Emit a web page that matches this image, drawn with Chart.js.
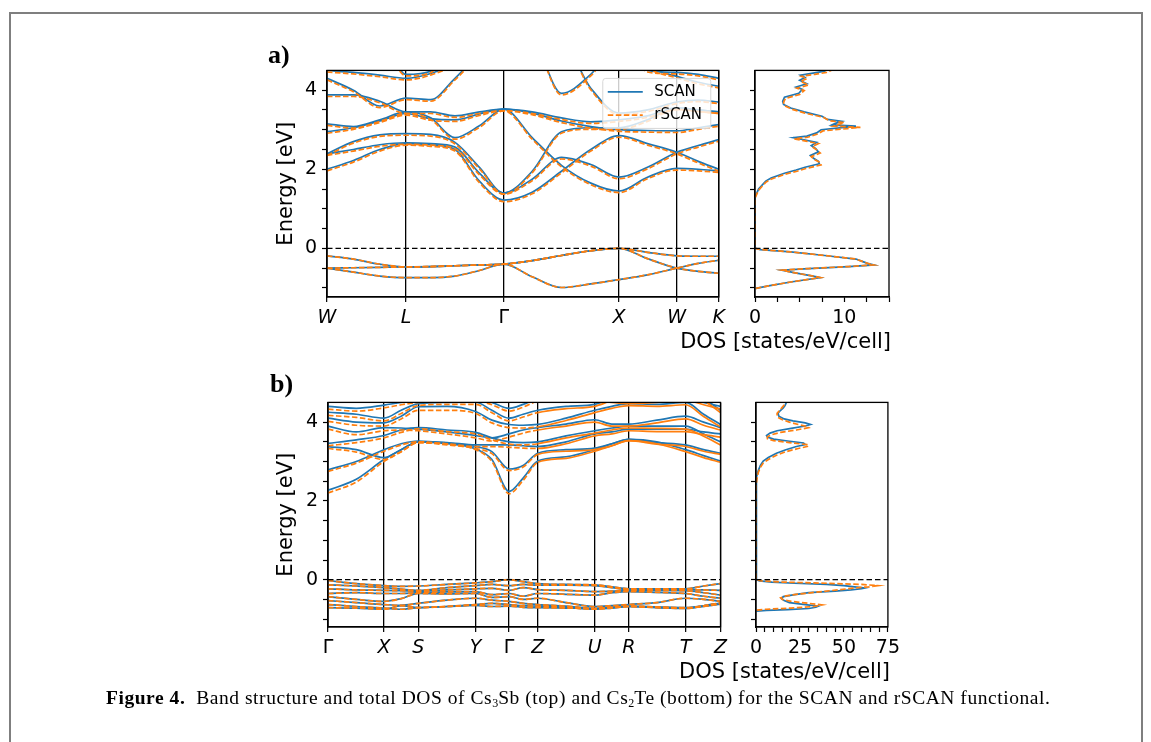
<!DOCTYPE html>
<html>
<head>
<meta charset="utf-8">
<script src="https://cdn.jsdelivr.net/npm/chart.js@4.4.1/dist/chart.umd.min.js"></script>
<style>
  body { margin: 0; background: #fff; width: 1151px; height: 742px; overflow: hidden; position: relative; }
  #frame { position: absolute; left: 9px; top: 12px; width: 1134px; height: 780px; border: 2px solid #7f7f7f; box-sizing: border-box; }
  canvas { position: absolute; }
  .tag { position: absolute; font-family: "Liberation Serif", serif; font-weight: bold; font-size: 26px; line-height: 26px; color: #000; }
  #cap { position: absolute; left: 106px; top: 687px; font-family: "Liberation Serif", serif; font-size: 19.5px; letter-spacing: 0.55px; color: #000; white-space: nowrap; }
  #cap sub { font-size: 12px; vertical-align: -3px; line-height: 0; letter-spacing: 0; }
</style>
</head>
<body>
<div id="frame"></div>
<canvas id="bandA" width="468" height="283" style="left:262px;top:54px"></canvas>
<canvas id="dosA" width="244" height="305" style="left:660px;top:54px"></canvas>
<canvas id="bandB" width="469" height="281" style="left:263px;top:386px"></canvas>
<canvas id="dosB" width="244" height="303" style="left:661px;top:386px"></canvas>
<div class="tag" style="left:268px;top:42px">a)</div>
<div class="tag" style="left:270px;top:371px">b)</div>
<div id="cap"><b>Figure 4.</b>&nbsp;&nbsp;Band structure and total DOS of Cs<sub>3</sub>Sb (top) and Cs<sub>2</sub>Te (bottom) for the SCAN and rSCAN functional.</div>

<script>
// ---- data ----
const seriesNames = ['SCAN', 'rSCAN'];
const dosTitle = 'DOS [states/eV/cell]';

// a) Cs3Sb, path W-L-Γ-X-W-K
const kLabelsA = ['W', 'L', 'Γ', 'X', 'W', 'K'];
const kNodesA = [0, 0.81, 1.81, 2.99, 3.58, 4.01];
const kGridA = [0, 0.27, 0.54, 0.81, 1.06, 1.31, 1.56, 1.81, 2.1, 2.4, 2.7, 2.99, 3.28, 3.58, 3.8, 4.01];

const valenceA = [
  [-0.19, -0.27, -0.40, -0.47, -0.46, -0.44, -0.42, -0.40, -0.31, -0.18, -0.06, 0.00, -0.10, -0.19, -0.20, -0.20],
  [-0.50, -0.49, -0.48, -0.47, -0.46, -0.44, -0.42, -0.40, -0.31, -0.18, -0.06, 0.00, -0.26, -0.50, -0.58, -0.63],
  [-0.50, -0.60, -0.70, -0.74, -0.74, -0.70, -0.56, -0.40, -0.72, -0.99, -0.90, -0.79, -0.67, -0.50, -0.38, -0.30]
];
const scanCondA = [
  [2.00, 2.22, 2.50, 2.65, 2.62, 2.50, 1.70, 1.22, 1.42, 1.95, 2.50, 2.85, 2.65, 2.43, 2.20, 2.00],
  [2.39, 2.50, 2.62, 2.67, 2.65, 2.56, 1.90, 1.40, 1.75, 2.30, 2.12, 1.80, 2.05, 2.43, 2.60, 2.75],
  [2.39, 2.70, 2.87, 2.90, 2.88, 2.68, 2.05, 1.40, 1.95, 2.95, 3.05, 3.05, 3.25, 3.55, 3.50, 3.45],
  [2.95, 3.05, 3.22, 3.41, 3.28, 3.25, 3.40, 3.52, 3.42, 3.22, 3.08, 3.00, 2.98, 2.97, 3.05, 3.13],
  [3.15, 3.08, 3.25, 3.45, 3.30, 2.80, 3.10, 3.52, 2.80, 2.10, 1.65, 1.45, 1.80, 2.02, 2.00, 1.96],
  [3.88, 3.88, 3.72, 3.45, 3.45, 3.35, 3.45, 3.52, 3.45, 3.30, 3.20, 3.25, 3.35, 3.55, 3.50, 3.45],
  [4.30, 4.00, 3.60, 3.80, 3.76, 4.30, 4.90, 5.20, 5.20, 5.20, 5.20, 5.20, 4.60, 4.35, 4.20, 4.10],
  [4.50, 4.45, 4.38, 4.30, 4.42, 4.70, 5.20, 5.20, 5.20, 3.92, 4.40, 5.20, 4.50, 4.45, 4.40, 4.30],
  [5.20, 5.20, 5.20, 4.40, 4.48, 5.20, 5.20, 5.20, 5.20, 5.20, 4.05, 3.42, 3.50, 3.70, 3.75, 3.70]
];
const rscanCondA = [
  [1.96, 2.18, 2.46, 2.61, 2.58, 2.46, 1.66, 1.18, 1.38, 1.91, 2.46, 2.81, 2.61, 2.39, 2.16, 1.95],
  [2.35, 2.46, 2.58, 2.63, 2.61, 2.52, 1.86, 1.37, 1.71, 2.26, 2.08, 1.76, 2.01, 2.39, 2.56, 2.71],
  [2.35, 2.66, 2.83, 2.86, 2.84, 2.64, 2.01, 1.37, 1.91, 2.91, 3.01, 3.01, 3.21, 3.51, 3.46, 3.41],
  [2.91, 3.01, 3.18, 3.37, 3.24, 3.21, 3.36, 3.48, 3.38, 3.18, 3.04, 2.96, 2.94, 2.93, 3.01, 3.09],
  [3.11, 3.04, 3.21, 3.41, 3.26, 2.76, 3.06, 3.48, 2.76, 2.06, 1.61, 1.41, 1.76, 1.98, 1.96, 1.92],
  [3.84, 3.84, 3.68, 3.41, 3.41, 3.31, 3.41, 3.48, 3.41, 3.26, 3.16, 3.21, 3.31, 3.51, 3.46, 3.41],
  [4.26, 3.96, 3.56, 3.76, 3.72, 4.26, 4.86, 5.20, 5.20, 5.20, 5.20, 5.20, 4.56, 4.31, 4.16, 4.06],
  [4.46, 4.41, 4.34, 4.26, 4.38, 4.66, 5.20, 5.20, 5.20, 3.88, 4.36, 5.20, 4.46, 4.41, 4.36, 4.26],
  [5.20, 5.20, 5.20, 4.36, 4.44, 5.20, 5.20, 5.20, 5.20, 5.20, 4.01, 3.38, 3.46, 3.66, 3.71, 3.66]
];

// b) Cs2Te, path Γ-X-S-Y-Γ-Z-U-R-T-Z
const kLabelsB = ['Γ', 'X', 'S', 'Y', 'Γ', 'Z', 'U', 'R', 'T', 'Z'];
const kNodesB = [0, 0.573, 0.926, 1.513, 1.856, 2.15, 2.733, 3.083, 3.666, 4.023];
const kGridB = [0, 0.29, 0.573, 0.75, 0.926, 1.22, 1.513, 1.68, 1.856, 2.0, 2.15, 2.44, 2.733, 2.91, 3.083, 3.37, 3.666, 3.85, 4.023];

const valenceB = [
  [-0.02, -0.10, -0.15, -0.17, -0.16, -0.12, -0.08, -0.05, 0.00, -0.05, -0.10, -0.12, -0.13, -0.18, -0.23, -0.23, -0.23, -0.16, -0.10],
  [-0.13, -0.16, -0.20, -0.24, -0.27, -0.20, -0.15, -0.12, -0.15, -0.12, -0.14, -0.14, -0.15, -0.20, -0.25, -0.25, -0.25, -0.26, -0.27],
  [-0.23, -0.26, -0.27, -0.28, -0.29, -0.26, -0.23, -0.22, -0.27, -0.20, -0.25, -0.27, -0.30, -0.29, -0.27, -0.27, -0.28, -0.33, -0.39],
  [-0.35, -0.33, -0.35, -0.35, -0.33, -0.31, -0.30, -0.38, -0.35, -0.42, -0.35, -0.37, -0.39, -0.33, -0.30, -0.32, -0.35, -0.42, -0.47],
  [-0.43, -0.50, -0.55, -0.48, -0.35, -0.36, -0.35, -0.45, -0.43, -0.50, -0.47, -0.58, -0.68, -0.66, -0.63, -0.58, -0.47, -0.50, -0.55],
  [-0.53, -0.58, -0.63, -0.65, -0.60, -0.52, -0.47, -0.52, -0.55, -0.60, -0.63, -0.67, -0.73, -0.70, -0.67, -0.69, -0.71, -0.66, -0.59],
  [-0.63, -0.68, -0.72, -0.75, -0.71, -0.68, -0.63, -0.60, -0.63, -0.66, -0.67, -0.70, -0.75, -0.72, -0.68, -0.70, -0.72, -0.68, -0.62],
  [-0.71, -0.72, -0.75, -0.66, -0.71, -0.68, -0.65, -0.68, -0.67, -0.70, -0.71, -0.72, -0.73, -0.70, -0.68, -0.71, -0.73, -0.66, -0.60]
];
const scanCondB = [
  [2.27, 2.55, 3.05, 3.30, 3.50, 3.45, 3.32, 3.05, 2.24, 2.58, 3.01, 3.12, 3.30, 3.45, 3.56, 3.50, 3.30, 3.15, 3.01],
  [2.79, 3.00, 3.30, 3.45, 3.52, 3.47, 3.38, 3.25, 2.81, 2.90, 3.21, 3.30, 3.34, 3.45, 3.56, 3.48, 3.42, 3.30, 3.21],
  [3.38, 3.30, 3.10, 3.30, 3.50, 3.48, 3.42, 3.42, 3.42, 3.40, 3.38, 3.50, 3.70, 3.75, 3.82, 3.82, 3.82, 3.75, 3.70],
  [3.46, 3.55, 3.66, 3.80, 3.86, 3.80, 3.74, 3.60, 3.50, 3.48, 3.50, 3.65, 3.78, 3.85, 3.90, 3.90, 3.90, 3.70, 3.50],
  [3.90, 3.75, 3.86, 3.85, 3.82, 3.75, 3.66, 3.60, 3.70, 3.80, 3.86, 3.95, 4.06, 3.95, 3.95, 4.05, 4.15, 4.00, 3.86],
  [4.10, 4.00, 3.98, 4.15, 4.39, 4.40, 4.27, 4.05, 3.94, 3.92, 3.94, 4.10, 4.30, 4.40, 4.47, 4.45, 4.50, 4.20, 3.94],
  [4.25, 4.20, 4.10, 4.30, 4.47, 4.50, 4.51, 4.30, 4.10, 4.20, 4.30, 4.40, 4.45, 4.60, 4.70, 4.70, 4.80, 4.60, 4.30],
  [4.40, 4.35, 4.43, 4.50, 4.55, 4.60, 4.60, 4.50, 4.35, 4.45, 4.60, 4.70, 4.60, 4.55, 4.52, 4.55, 4.60, 4.50, 4.40]
];
const rscanCondB = [
  [2.20, 2.48, 3.00, 3.25, 3.48, 3.42, 3.30, 3.00, 2.18, 2.52, 2.98, 3.08, 3.26, 3.40, 3.53, 3.45, 3.25, 3.10, 2.98],
  [2.75, 2.96, 3.26, 3.42, 3.50, 3.44, 3.33, 3.20, 2.77, 2.86, 3.18, 3.26, 3.30, 3.40, 3.53, 3.44, 3.38, 3.26, 3.18],
  [3.33, 3.24, 3.05, 3.25, 3.48, 3.45, 3.38, 3.38, 3.36, 3.34, 3.33, 3.45, 3.65, 3.70, 3.78, 3.76, 3.76, 3.68, 3.62],
  [3.40, 3.48, 3.60, 3.74, 3.83, 3.76, 3.70, 3.55, 3.44, 3.42, 3.45, 3.60, 3.72, 3.80, 3.85, 3.84, 3.82, 3.64, 3.42],
  [3.82, 3.68, 3.78, 3.80, 3.78, 3.70, 3.60, 3.52, 3.62, 3.72, 3.80, 3.90, 4.00, 3.90, 3.90, 3.98, 4.08, 3.92, 3.80],
  [4.02, 3.92, 3.90, 4.08, 4.30, 4.30, 4.22, 3.98, 3.86, 3.85, 3.88, 4.04, 4.24, 4.35, 4.42, 4.40, 4.44, 4.14, 3.88],
  [4.17, 4.12, 4.03, 4.22, 4.42, 4.45, 4.45, 4.24, 4.03, 4.13, 4.24, 4.34, 4.40, 4.55, 4.65, 4.65, 4.75, 4.55, 4.24],
  [4.33, 4.28, 4.36, 4.44, 4.50, 4.55, 4.55, 4.44, 4.28, 4.38, 4.54, 4.65, 4.55, 4.50, 4.47, 4.50, 4.55, 4.44, 4.33]
];

// DOS curves as [energy, states/eV/cell]
const dosValA = [[-1.01, 0.1], [-0.95, 1.5], [-0.85, 4.0], [-0.74, 7.3], [-0.70, 6.5], [-0.62, 4.5], [-0.55, 3.0],
  [-0.51, 6.0], [-0.46, 10.5], [-0.42, 13.3], [-0.38, 12.6], [-0.33, 12.0], [-0.27, 11.3], [-0.18, 7.8],
  [-0.09, 4.0], [-0.03, 0.6], [0.0, 0.0]];
const dosCondScanA = [[1.30, 0.0], [1.50, 0.4], [1.70, 1.2], [1.78, 1.8], [1.90, 3.3], [1.98, 4.6], [2.05, 5.6],
  [2.14, 7.2], [2.20, 7.1], [2.27, 6.6], [2.35, 6.2], [2.44, 7.1], [2.52, 6.8], [2.60, 6.3], [2.68, 6.9],
  [2.74, 5.6], [2.80, 4.3], [2.84, 5.8], [2.92, 6.9], [3.00, 7.4], [3.06, 10.0], [3.09, 11.3], [3.12, 8.6],
  [3.16, 9.0], [3.21, 9.7], [3.26, 8.1], [3.34, 7.5], [3.45, 5.5], [3.55, 4.0], [3.64, 3.2], [3.72, 3.1],
  [3.82, 3.3], [3.92, 4.9], [4.02, 5.3], [4.08, 4.6], [4.16, 5.8], [4.25, 5.0], [4.32, 5.6], [4.38, 5.1],
  [4.43, 6.5], [4.48, 7.8], [4.52, 8.0]];
const dosCondRscanA = [[1.27, 0.0], [1.47, 0.4], [1.67, 1.2], [1.75, 1.8], [1.87, 3.3], [1.95, 4.7], [2.02, 5.7],
  [2.11, 7.4], [2.17, 7.3], [2.24, 6.7], [2.32, 6.3], [2.41, 7.3], [2.49, 6.9], [2.57, 6.4], [2.65, 7.1],
  [2.71, 5.7], [2.77, 4.4], [2.81, 5.9], [2.89, 7.0], [2.97, 7.6], [3.03, 10.4], [3.06, 11.8], [3.09, 8.8],
  [3.13, 9.3], [3.18, 10.0], [3.23, 8.3], [3.31, 7.7], [3.42, 5.6], [3.52, 4.1], [3.61, 3.3], [3.69, 3.2],
  [3.79, 3.4], [3.89, 5.0], [3.99, 5.5], [4.05, 4.7], [4.13, 6.0], [4.22, 5.1], [4.29, 5.8], [4.35, 5.2],
  [4.40, 6.7], [4.45, 8.0], [4.52, 8.7]];

const dosValScanB = [[-0.80, 0.2], [-0.78, 6], [-0.76, 18], [-0.73, 30], [-0.70, 34], [-0.67, 35.5], [-0.63, 28],
  [-0.58, 19], [-0.53, 16], [-0.48, 14.5], [-0.43, 15.5], [-0.38, 22], [-0.33, 30], [-0.29, 45], [-0.26, 54],
  [-0.23, 60], [-0.21, 62], [-0.18, 56], [-0.15, 50], [-0.12, 40], [-0.09, 22], [-0.06, 9], [-0.03, 2], [0.0, 0]];
const dosValRscanB = [[-0.77, 0.5], [-0.75, 6], [-0.72, 20], [-0.68, 33], [-0.64, 37.5], [-0.60, 30], [-0.55, 20],
  [-0.50, 15], [-0.46, 14], [-0.41, 17], [-0.36, 25], [-0.30, 38], [-0.25, 48], [-0.21, 56], [-0.18, 64],
  [-0.15, 69], [-0.12, 60], [-0.09, 40], [-0.06, 15], [-0.03, 3], [0.0, 0]];
const dosCondScanB = [[2.40, 0], [2.60, 0.5], [2.77, 1.3], [2.90, 2.5], [3.01, 4.1], [3.10, 7], [3.21, 11.6],
  [3.30, 17], [3.38, 23], [3.43, 28], [3.47, 27], [3.52, 18], [3.57, 10], [3.62, 6.5], [3.66, 6.0], [3.72, 8],
  [3.78, 12], [3.84, 20], [3.90, 28], [3.94, 31], [3.98, 28], [4.03, 21], [4.08, 16], [4.15, 13], [4.23, 12.5],
  [4.30, 14], [4.36, 15.5], [4.42, 16.5], [4.52, 17.5]];
const dosCondRscanB = [[2.35, 0], [2.55, 0.5], [2.72, 1.3], [2.85, 2.5], [2.96, 4.1], [3.05, 7], [3.16, 11.6],
  [3.25, 17], [3.33, 24], [3.39, 30], [3.43, 29], [3.48, 19], [3.53, 10], [3.58, 6.5], [3.63, 6.5], [3.68, 9],
  [3.74, 14], [3.80, 23], [3.86, 30], [3.89, 29], [3.94, 24], [4.00, 19], [4.06, 15], [4.13, 12], [4.22, 12],
  [4.30, 13.5], [4.38, 15], [4.46, 16.5], [4.52, 17]];

// axis ticks
const energyTicks = [-1, -0.5, 0, 0.5, 1, 1.5, 2, 2.5, 3, 3.5, 4];
const energyLabels = [0, 2, 4];
const dosTicksA = [0, 2.5, 5, 7.5, 10, 12.5, 15];
const dosLabelsA = [0, 10];
const dosTicksB = [0, 5, 10, 15, 20, 25, 30, 35, 40, 45, 50, 55, 60, 65, 70, 75];
const dosLabelsB = [0, 25, 50, 75];

// ---- drawing ----
const BLUE = '#1f77b4', ORANGE = '#ff7f0e';
const DASH = [5.5, 2.5];
const FONT = 'DejaVu Sans';
Chart.defaults.font.family = FONT;
Chart.defaults.color = '#000';

function bandSets(grid, bands, color, dash, solidFrom) {
  return bands.map(b => {
    const ds = {
      data: grid.map((k, i) => ({ x: k, y: b[i] })),
      borderColor: color, borderWidth: 1.7, borderDash: dash,
      pointRadius: 0, cubicInterpolationMode: 'monotone', fill: false
    };
    if (solidFrom != null) {
      ds.segment = { borderDash: c => (c.p0.parsed.x >= solidFrom - 1e-6 ? [] : dash) };
    }
    return ds;
  });
}

function dosSet(pairs, color, dash) {
  return {
    data: pairs.map(([e, d]) => ({ x: d, y: e })),
    borderColor: color, borderWidth: 1.7, borderDash: dash,
    pointRadius: 0, fill: false
  };
}

// frame on all four sides + dashed Fermi level
const framePlugin = {
  id: 'frame',
  afterDatasetsDraw(chart) {
    const { ctx, chartArea: a, scales } = chart;
    const y0 = scales.y.getPixelForValue(0);
    ctx.save();
    ctx.strokeStyle = '#000';
    ctx.lineWidth = 1.3;
    ctx.setLineDash([5.5, 3]);
    ctx.beginPath();
    ctx.moveTo(a.left, y0);
    ctx.lineTo(a.right, y0);
    ctx.stroke();
    ctx.setLineDash([]);
    ctx.strokeRect(a.left, a.top, a.right - a.left, a.bottom - a.top);
    ctx.restore();
  }
};

// DOS axis title: right-aligned at the axes edge, wider than the axes (no squeezing)
const dosTitlePlugin = {
  id: 'dosTitle',
  afterDraw(chart) {
    const { ctx, chartArea: a } = chart;
    ctx.save();
    ctx.fillStyle = '#000';
    ctx.font = '21px "' + FONT + '"';
    ctx.textAlign = 'right';
    ctx.textBaseline = 'middle';
    ctx.fillText(dosTitle, a.right + 2, a.bottom + 46);
    ctx.restore();
  }
};

const legendPlugin = {
  id: 'bandLegend',
  afterDraw(chart) {
    const { ctx, chartArea: a } = chart;
    const w = 108, h = 50, x = a.right - 8 - w, y = a.top + 8;
    ctx.save();
    ctx.fillStyle = 'rgba(255,255,255,0.8)';
    ctx.strokeStyle = '#d6d6d6';
    ctx.lineWidth = 1;
    ctx.beginPath();
    ctx.roundRect(x, y, w, h, 3);
    ctx.fill();
    ctx.stroke();
    const styles = [{ c: BLUE, d: [] }, { c: ORANGE, d: DASH }];
    seriesNames.forEach((name, i) => {
      const ly = y + 13.5 + i * 23.3;
      ctx.strokeStyle = styles[i].c;
      ctx.lineWidth = 1.7;
      ctx.setLineDash(styles[i].d);
      ctx.beginPath();
      ctx.moveTo(x + 5, ly);
      ctx.lineTo(x + 40, ly);
      ctx.stroke();
      ctx.setLineDash([]);
      ctx.fillStyle = '#000';
      ctx.font = '15px "' + FONT + '"';
      ctx.textBaseline = 'middle';
      ctx.fillText(name, x + 51.5, ly);
    });
    ctx.restore();
  }
};

function energyAxis(min, max, width, withLabels, titlePad) {
  return {
    type: 'linear', min: min, max: max,
    afterBuildTicks: s => { s.ticks = energyTicks.map(v => ({ value: v })); },
    afterFit: s => { s.width = width; },
    ticks: {
      autoSkip: false, padding: 5, color: '#000',
      font: { family: FONT, size: 19 },
      callback: v => (withLabels && energyLabels.includes(v) ? String(v) : '')
    },
    grid: { drawOnChartArea: false, tickLength: 5, tickColor: '#000', tickWidth: 1.2 },
    border: { color: '#000', width: 1.3 },
    title: {
      display: withLabels, text: 'Energy [eV]', color: '#000',
      font: { family: FONT, size: 21 }, padding: { top: titlePad, bottom: 0 }
    }
  };
}

function kAxis(nodes, labels) {
  return {
    type: 'linear', min: 0, max: nodes[nodes.length - 1],
    afterBuildTicks: s => { s.ticks = nodes.map(v => ({ value: v })); },
    afterFit: s => { s.height = 40; },
    ticks: {
      autoSkip: false, maxRotation: 0, padding: 5, color: '#000',
      font: c => ({ family: FONT, size: 19, style: labels[c.index] === 'Γ' ? 'normal' : 'italic' }),
      callback: (v, i) => labels[i]
    },
    grid: { color: '#000', lineWidth: 1.3, tickLength: 5, tickColor: '#000', tickWidth: 1.2 },
    border: { color: '#000', width: 1.3 }
  };
}

function dosAxis(max, ticks, labels) {
  return {
    type: 'linear', min: 0, max: max,
    afterBuildTicks: s => { s.ticks = ticks.map(v => ({ value: v })); },
    afterFit: s => { s.height = 62; },
    ticks: {
      autoSkip: false, maxRotation: 0, padding: 5, color: '#000',
      font: { family: FONT, size: 19 },
      callback: v => (labels.includes(v) ? String(v) : '')
    },
    grid: { drawOnChartArea: false, tickLength: 5, tickColor: '#000', tickWidth: 1.2 },
    border: { color: '#000', width: 1.3 }
  };
}

const baseOpts = {
  responsive: false, animation: false, events: [],
  plugins: { legend: { display: false }, tooltip: { enabled: false } }
};

// a) band structure
new Chart(document.getElementById('bandA'), {
  type: 'line',
  data: {
    datasets: [
      ...bandSets(kGridA, valenceA, ORANGE, DASH),
      ...bandSets(kGridA, rscanCondA, ORANGE, DASH),
      ...bandSets(kGridA, valenceA, BLUE, []),
      ...bandSets(kGridA, scanCondA, BLUE, [])
    ]
  },
  options: {
    ...baseOpts,
    layout: { padding: { left: 0, right: 2, top: 6, bottom: 0 } },
    scales: { x: kAxis(kNodesA, kLabelsA), y: energyAxis(-1.23, 4.5, 65, true, 12) }
  },
  plugins: [framePlugin, legendPlugin]
});

// a) DOS
new Chart(document.getElementById('dosA'), {
  type: 'line',
  data: {
    datasets: [
      dosSet(dosValA.concat(dosCondRscanA), ORANGE, DASH),
      dosSet(dosValA.concat(dosCondScanA), BLUE, [])
    ]
  },
  options: {
    ...baseOpts,
    layout: { padding: { left: 87, right: 15, top: 6, bottom: 0 } },
    scales: { x: dosAxis(15, dosTicksA, dosLabelsA), y: energyAxis(-1.23, 4.5, 8, false, 0) }
  },
  plugins: [framePlugin, dosTitlePlugin]
});

// b) band structure
new Chart(document.getElementById('bandB'), {
  type: 'line',
  data: {
    datasets: [
      ...bandSets(kGridB, valenceB, ORANGE, DASH),
      ...bandSets(kGridB, rscanCondB, ORANGE, DASH, 2.15),
      ...bandSets(kGridB, valenceB, BLUE, []),
      ...bandSets(kGridB, scanCondB, BLUE, [])
    ]
  },
  options: {
    ...baseOpts,
    layout: { padding: { left: 0, right: 2, top: 6, bottom: 0 } },
    scales: { x: kAxis(kNodesB, kLabelsB), y: energyAxis(-1.2, 4.5, 65, true, 11) }
  },
  plugins: [framePlugin]
});

// b) DOS
new Chart(document.getElementById('dosB'), {
  type: 'line',
  data: {
    datasets: [
      dosSet(dosValRscanB.concat(dosCondRscanB), ORANGE, DASH),
      dosSet(dosValScanB.concat(dosCondScanB), BLUE, [])
    ]
  },
  options: {
    ...baseOpts,
    layout: { padding: { left: 87, right: 15, top: 6, bottom: 0 } },
    scales: { x: dosAxis(75, dosTicksB, dosLabelsB), y: energyAxis(-1.2, 4.5, 8, false, 0) }
  },
  plugins: [framePlugin, dosTitlePlugin]
});
</script>
</body>
</html>
